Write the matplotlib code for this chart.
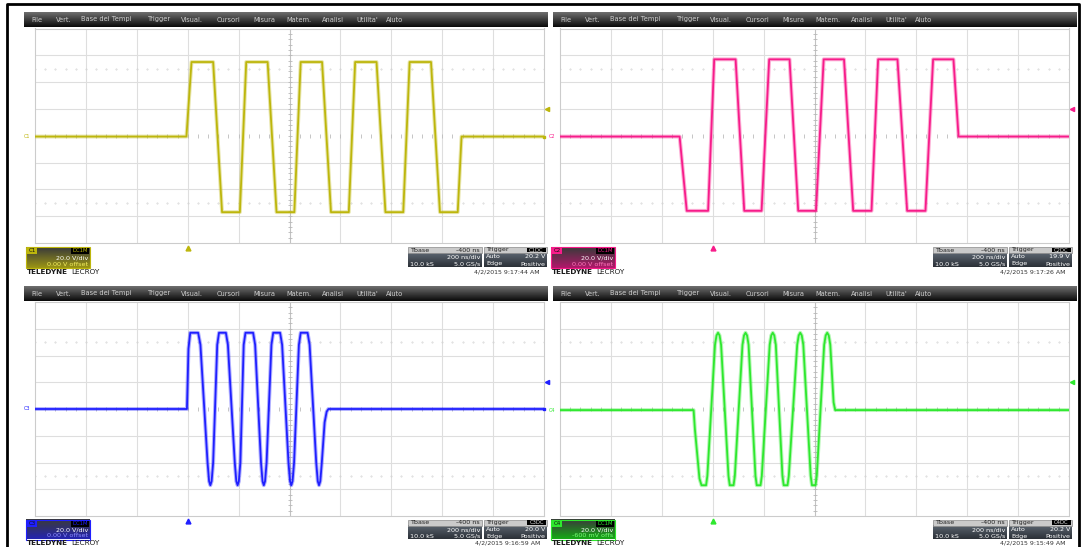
import numpy as np
import matplotlib
matplotlib.use("Agg")
import matplotlib.pyplot as plt
from matplotlib.colors import to_rgb
from matplotlib.patches import Rectangle

W, H = 1085, 547

# screen time in ns (0 = left edge, 200 ns/div), amplitude in V (20 V/div)
C1_T = [0, 595, 615, 700, 735, 805, 830, 914, 949, 1019, 1044, 1128, 1163,
        1233, 1258, 1342, 1377, 1447, 1472, 1556, 1591, 1661, 1676, 2000]
C1_V = [-0.6, -0.6, 55, 55, -57, -57, 55, 55, -57, -57, 55, 55, -57,
        -57, 55, 55, -57, -57, 55, 55, -57, -57, -0.6, -0.6]

C2_T = [0, 470, 498, 582, 606, 690, 724, 792, 822, 902, 936, 1006, 1036,
        1116, 1152, 1224, 1250, 1326, 1364, 1436, 1466, 1546, 1566, 2000]
C2_V = [-0.6, -0.6, -56, -56, 57, 57, -56, -56, 57, 57, -56, -56, 57,
        57, -56, -56, 57, 57, -56, -56, 57, 57, -0.6, -0.6]

C3_T = [0, 597, 603, 610, 641, 650, 678, 684, 689, 694, 700, 716, 723,
        750, 758, 785, 791, 796, 801, 807, 820, 827,
        857, 865, 888, 894, 899, 904, 910, 929, 936,
        963, 971, 996, 1002, 1007, 1012, 1018, 1037, 1044,
        1071, 1079, 1105, 1111, 1116, 1121, 1127, 1138, 1146, 1153, 2000]
C3_V = [0, 0, 45, 57, 57, 48, -40, -54, -57, -54, -40, 48, 57,
        57, 48, -40, -54, -57, -54, -40, 48, 57,
        57, 48, -40, -54, -57, -54, -40, 48, 57,
        57, 48, -40, -54, -57, -54, -40, 48, 57,
        57, 48, -40, -54, -57, -54, -40, -10, -2, 0, 0]

C4_T = [0, 525, 530, 548, 556, 574, 579, 609, 615, 621, 627, 633,
        662, 667, 682, 687, 717, 723, 729, 735, 741,
        768, 773, 788, 793, 824, 830, 836, 842, 848,
        874, 879, 894, 899, 932, 938, 944, 950, 956,
        985, 990, 1004, 1009, 1038, 1044, 1050, 1056, 1062, 1075, 1081, 2000]
C4_V = [-0.8, -0.8, -15, -52, -57, -57, -50, 48, 55, 57, 55, 48,
        -50, -57, -57, -50, 48, 55, 57, 55, 48,
        -50, -57, -57, -50, 48, 55, 57, 55, 48,
        -50, -57, -57, -50, 48, 55, 57, 55, 48,
        -50, -57, -57, -50, 48, 55, 57, 55, 48, 5, -0.8, -0.8]

CHANNELS = ["C1", "C2", "C3", "C4"]
OFFSETS = ["0.00 V offset", "0.00 V offset", "0.00 V offset", "-600 mV offs"]
TRIG_LEVELS = ["20.2 V", "19.9 V", "20.0 V", "20.2 V"]
TRIG_LEVEL_V = [20.2, 19.9, 20.0, 20.2]
DATES = ["4/2/2015 9:17:44 AM", "4/2/2015 9:17:26 AM",
         "4/2/2015 9:16:59 AM", "4/2/2015 9:15:49 AM"]
TRIGGER_TIME = 600  # ns from left edge (Tbase -400 ns)

MENU_ITEMS = ["File", "Vert.", "Base dei Tempi", "Trigger", "Visual.",
              "Cursori", "Misura", "Matem.", "Analisi", "Utilita'", "Aiuto"]
MENU_X = [7, 32, 57, 124, 157, 193, 229, 262, 298, 332, 362]

COLORS = ["#bdb60c", "#f71c8a", "#1f1fff", "#2ee82e"]
BOX_COLORS = ["#9a9414", "#b0186a", "#2424b0", "#16a816"]
OFFSET_COLORS = ["#f4f060", "#ff78bc", "#8c8cff", "#78ff78"]

# panel layout in pixels: plot left, right, top, bottom, menu left, menu right,
# menu top, footer top, footer box height, footer text line
PANELS = [
    (35, 544, 28.5, 243, 24, 548, 12, 247, 21, 272),
    (560, 1069, 28.5, 243, 553, 1077, 12, 247, 21, 272),
    (35, 544, 302, 516, 24, 548, 286, 519.5, 20, 543),
    (560, 1069, 302, 516, 553, 1077, 286, 519.5, 20, 543),
]
TRACES = [(C1_T, C1_V), (C2_T, C2_V), (C3_T, C3_V), (C4_T, C4_V)]

fig = plt.figure(figsize=(W / 100, H / 100), dpi=100)
fig.patch.set_facecolor("white")
bg = fig.add_axes([0, 0, 1, 1])
bg.axis("off")


def gradient(x0, y0, x1, y1, top, bottom, z=2):
    a, b = np.array(to_rgb(top)), np.array(to_rgb(bottom))
    f = np.linspace(0, 1, 24)[:, None]
    img = (a * (1 - f) + b * f)[:, None, :]
    bg.imshow(img, extent=(x0, x1, y1, y0), aspect="auto",
              interpolation="bilinear", zorder=z)


def label(x, y, s, color, ha="left", size=4.6, weight="normal"):
    bg.text(x, y, s, color=color, ha=ha, va="center", fontsize=size,
            fontweight=weight, zorder=6)


def footer(i, left, ytop, hbox, yline):
    col = COLORS[i]
    # channel descriptor
    x0, x1 = left - 9, left + 55
    gradient(x0, ytop, x1, ytop + hbox, "#3a3a3a", BOX_COLORS[i])
    bg.add_patch(Rectangle((x0, ytop), x1 - x0, hbox, fill=False, ec=col, lw=0.8, zorder=4))
    bg.add_patch(Rectangle((x0 + 1, ytop + 1), 10, 6, fc=col, ec="none", zorder=4))
    label(x0 + 6, ytop + 4, CHANNELS[i], "#111111", ha="center", size=4)
    bg.add_patch(Rectangle((x1 - 19, ytop + 1), 18, 6, fc="black", ec="none", zorder=4))
    label(x1 - 10, ytop + 4, "DC1M", col, ha="center", size=3.8)
    label(x1 - 2, ytop + 10.5, "20.0 V/div", "white", ha="right")
    label(x1 - 2, ytop + hbox - 4, OFFSETS[i], OFFSET_COLORS[i], ha="right")

    # timebase box
    tx0, tx1 = left + 373, left + 447
    bg.add_patch(Rectangle((tx0, ytop), tx1 - tx0, 6, fc="#cacaca", ec="#8a8a8a", lw=0.5, zorder=3))
    gradient(tx0, ytop + 6, tx1, ytop + 20, "#5a636e", "#2c3138")
    label(tx0 + 2, ytop + 3, "Tbase", "#222222")
    label(tx1 - 2, ytop + 3, "-400 ns", "#222222", ha="right")
    label(tx1 - 2, ytop + 10, "200 ns/div", "white", ha="right")
    label(tx0 + 2, ytop + 17, "10.0 kS", "white")
    label(tx1 - 2, ytop + 17, "5.0 GS/s", "white", ha="right")

    # trigger box
    gx0, gx1 = left + 449, left + 512
    bg.add_patch(Rectangle((gx0, ytop), gx1 - gx0, 6, fc="#cacaca", ec="#8a8a8a", lw=0.5, zorder=3))
    gradient(gx0, ytop + 6, gx1, ytop + 20, "#5a636e", "#2c3138")
    label(gx0 + 2, ytop + 3, "Trigger", "#222222")
    bg.add_patch(Rectangle((gx1 - 20, ytop + 0.8), 19, 4.6, fc="black", ec="none", zorder=4))
    label(gx1 - 10.5, ytop + 3, CHANNELS[i] + "DC", "#dddddd", ha="center", size=3.8)
    label(gx0 + 2, ytop + 10, "Auto", "white")
    label(gx1 - 2, ytop + 10, TRIG_LEVELS[i], "white", ha="right")
    label(gx0 + 2, ytop + 17, "Edge", "white")
    label(gx1 - 2, ytop + 17, "Positive", "white", ha="right")

    # brand and timestamp
    label(left - 8, yline, "TELEDYNE", "#1a1a1a", size=5.2, weight="bold")
    label(left + 36, yline, "LECROY", "#1a1a1a", size=5.2)
    label(left + 505, yline, DATES[i], "#333333", ha="right", size=4.5)


for i, (left, right, top, bottom, mx0, mx1, my0, fy, fh, fline) in enumerate(PANELS):
    # menu bar
    gradient(mx0, my0, mx1, my0 + 15, "#6e6e6e", "#0a0a0a")
    for name, off in zip(MENU_ITEMS, MENU_X):
        label(mx0 + off, my0 + 7.5, name, "#cfcfcf", size=4.8)
    footer(i, left, fy, fh, fline)

    # screen
    ax = fig.add_axes([left / W, 1 - bottom / H, (right - left) / W, (bottom - top) / H])
    ax.set_xlim(0, 2000)
    ax.set_ylim(-80, 80)
    ax.set_xticks([])
    ax.set_yticks([])
    for s in ax.spines.values():
        s.set_color("#cccccc")
        s.set_linewidth(0.8)
    for gx in range(200, 2000, 200):
        if gx != 1000:
            ax.axvline(gx, color="#dedede", lw=0.8, zorder=0)
    for gy in range(-60, 80, 20):
        if gy != 0:
            ax.axhline(gy, color="#dedede", lw=0.8, zorder=0)
    ax.axvline(1000, color="#c2c2c2", lw=0.8, zorder=0)
    ht = np.arange(0, 2001, 40)
    vt = np.arange(-80, 81, 4)
    ax.plot(ht, np.zeros(len(ht)), ls="none", marker="|", ms=2.5, mew=0.6, color="#bcbcbc", zorder=1)
    ax.plot(np.full(len(vt), 1000), vt, ls="none", marker="_", ms=2.5, mew=0.6, color="#b8b8b8", zorder=1)
    for row in (50, -50):
        ax.plot(ht, np.full(len(ht), row), ls="none", marker=".", ms=0.8, color="#d2d2d2", zorder=1)

    t, v = TRACES[i]
    col = COLORS[i]
    ax.plot(t, v, color=col, lw=2.8, alpha=0.35, solid_joinstyle="round", zorder=3)
    ax.plot(t, v, color=col, lw=1.3, solid_joinstyle="round", zorder=4)

    # markers around the screen
    ax.plot(TRIGGER_TIME, -84, marker="^", ms=3.5, color=col, clip_on=False, zorder=5)
    ax.plot(2012, TRIG_LEVEL_V[i], marker="<", ms=3, color=col, clip_on=False, zorder=5)
    ax.text(-20, v[0], CHANNELS[i], color=col, fontsize=3.5, ha="right", va="center", clip_on=False)
    if i in (0, 2):
        ax.plot(2000, v[-1], marker="s", ms=2, color=col, clip_on=False, zorder=5)

# outer frame
bg.plot([7, 7, 1079, 1079], [H, 4, 4, H], color="black", lw=2, zorder=7)

bg.set_xlim(0, W)
bg.set_ylim(H, 0)

fig.savefig("out.png", dpi=100)
